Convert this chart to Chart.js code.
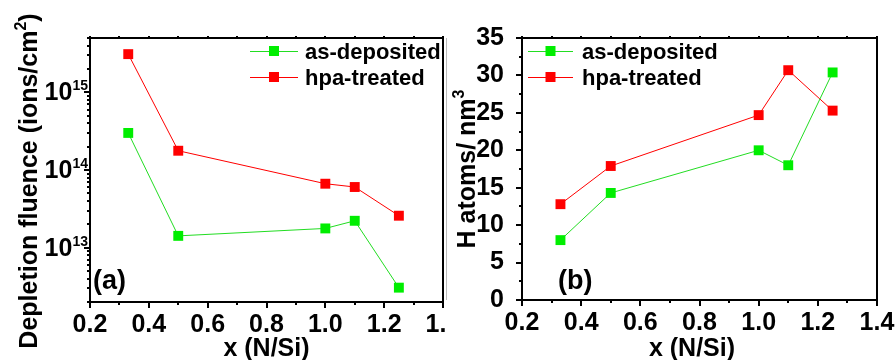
<!DOCTYPE html>
<html>
<head>
<meta charset="utf-8">
<script src="https://cdn.jsdelivr.net/npm/chart.js@4.4.1/dist/chart.umd.min.js"></script>
<style>
    body { margin: 0; background: #fff; }
    #wrap { position: relative; width: 895px; height: 360px; overflow: hidden; }
    canvas { position: absolute; top: 0; }
    #chartA { left: 0; }
    #chartB { left: 445px; }
</style>
</head>
<body>
<div id="wrap">
    <canvas id="chartA" width="460" height="360"></canvas>
    <canvas id="chartB" width="450" height="360"></canvas>
</div>
<script>
// x = N/Si ratio of the films
const xNS = [0.33, 0.5, 1.0, 1.1, 1.25];
const seriesNames = ['as-deposited', 'hpa-treated'];

// (a) depletion fluence, ions/cm2
const fluenceAsDep = [3.0e14, 1.42e13, 1.77e13, 2.22e13, 3.06e12];
const fluenceHpa = [3.1e15, 1.77e14, 6.66e13, 6.04e13, 2.58e13];
const fluenceDecades = [13, 14, 15];

// (b) H atoms / nm3
const hAsDep = [8.0, 14.3, 20.0, 18.0, 30.4];
const hHpa = [12.8, 17.9, 24.7, 30.7, 25.3];

const GREEN = '#00ee00';
const GREEN_LINE = '#22dd22';
const RED = '#ff0000';
const FONT = '"Liberation Sans", Arial, sans-serif';

function pts(ys) {
    return xNS.map((x, i) => ({ x: x, y: ys[i] }));
}

function makeSet(label, ys, fill, line) {
    return {
        label: label,
        data: pts(ys),
        borderColor: line,
        backgroundColor: fill,
        borderWidth: 1,
        pointStyle: 'rect',
        pointRadius: 7,
        pointBorderWidth: 0,
        pointBackgroundColor: fill,
        tension: 0
    };
}

// draws on the rotated baseline, sup = raised smaller part
function vText(ctx, parts, baseX, centerY) {
    ctx.save();
    ctx.translate(baseX, centerY);
    ctx.rotate(-Math.PI / 2);
    ctx.fillStyle = '#000';
    ctx.textBaseline = 'alphabetic';
    ctx.textAlign = 'left';
    let total = 0;
    parts.forEach(p => {
        ctx.font = 'bold ' + p.size + 'px ' + FONT;
        total += ctx.measureText(p.t).width;
    });
    let x = -total / 2;
    parts.forEach(p => {
        ctx.font = 'bold ' + p.size + 'px ' + FONT;
        ctx.fillText(p.t, x, p.sup ? -p.sup : 0);
        x += ctx.measureText(p.t).width;
    });
    ctx.restore();
}

function hText(ctx, txt, x, y, size, align) {
    ctx.save();
    ctx.fillStyle = '#000';
    ctx.font = 'bold ' + size + 'px ' + FONT;
    ctx.textAlign = align || 'left';
    ctx.textBaseline = 'alphabetic';
    ctx.fillText(txt, x, y);
    ctx.restore();
}

function drawLegend(ctx, x0, x1, textX, rows) {
    const cols = [[GREEN, GREEN_LINE], [RED, RED]];
    rows.forEach((y, i) => {
        ctx.save();
        ctx.strokeStyle = cols[i][1];
        ctx.lineWidth = 1;
        ctx.beginPath();
        ctx.moveTo(x0, y + 0.5);
        ctx.lineTo(x1, y + 0.5);
        ctx.stroke();
        ctx.fillStyle = cols[i][0];
        const cx = (x0 + x1) / 2;
        ctx.fillRect(cx - 5, y - 5, 10, 10);
        ctx.restore();
        hText(ctx, seriesNames[i], textX, y + 8, 22);
    });
}

function drawFrame(chart, yTicks) {
    const { ctx, chartArea: a } = chart;
    const xs = chart.scales.x, ys = chart.scales.y;
    ctx.save();
    ctx.strokeStyle = '#000';
    ctx.lineWidth = 2;
    ctx.strokeRect(a.left, a.top, a.right - a.left, a.bottom - a.top);
    ctx.beginPath();
    for (let i = 2; i <= 14; i++) {
        const px = Math.round(xs.getPixelForValue(i / 10));
        const len = i % 2 === 0 ? 6 : 3;
        ctx.moveTo(px, a.bottom);
        ctx.lineTo(px, a.bottom + len);
        ctx.moveTo(px, a.top);
        ctx.lineTo(px, a.top - 2);
    }
    yTicks.forEach(t => {
        const py = Math.round(ys.getPixelForValue(t.v));
        ctx.moveTo(a.left, py);
        ctx.lineTo(a.left - (t.major ? 6 : 3), py);
    });
    ctx.stroke();
    ctx.restore();
}

const whiteBg = {
    id: 'whiteBg',
    beforeDraw(chart) {
        const ctx = chart.ctx;
        ctx.save();
        ctx.fillStyle = '#fff';
        ctx.fillRect(0, 0, chart.width, chart.height);
        ctx.restore();
    }
};

const xAxis = (height) => ({
    type: 'linear',
    min: 0.2,
    max: 1.4,
    grid: { display: false },
    border: { display: false },
    ticks: {
        stepSize: 0.2,
        autoSkip: false,
        maxRotation: 0,
        padding: 0,
        color: '#000',
        font: { family: FONT, size: 25, weight: 'bold' },
        callback: v => Number(v).toFixed(1)
    },
    afterFit(s) {
        s.height = height;
        s.paddingLeft = 0;
        s.paddingRight = 0;
    }
});

// ---- (a) ----
const panelA = {
    id: 'panelA',
    afterDraw(chart) {
        const ctx = chart.ctx;
        const ys = chart.scales.y;
        const ticks = [];
        for (let e = 12; e <= 15; e++) {
            for (let k = 1; k <= 9; k++) {
                const v = k * Math.pow(10, e);
                if (v >= ys.min && v <= ys.max) ticks.push({ v: v, major: k === 1 });
            }
        }
        drawFrame(chart, ticks);
        const a = chart.chartArea;
        // decade labels 10^n
        fluenceDecades.forEach(n => {
            const py = ys.getPixelForValue(Math.pow(10, n));
            ctx.save();
            ctx.fillStyle = '#000';
            ctx.textAlign = 'right';
            ctx.textBaseline = 'alphabetic';
            ctx.font = 'bold 14px ' + FONT;
            const ew = ctx.measureText(String(n)).width;
            ctx.fillText(String(n), a.left - 2, py - 2);
            ctx.font = 'bold 25px ' + FONT;
            ctx.fillText('10', a.left - 2 - ew, py + 8);
            ctx.restore();
        });
        vText(ctx, [
            { t: 'Depletion fluence (ions/cm', size: 25 },
            { t: '2', size: 16, sup: 11 },
            { t: ')', size: 25 }
        ], 37, 181);
        hText(ctx, 'x (N/Si)', (a.left + a.right) / 2, 356, 25, 'center');
        hText(ctx, '(a)', 93, 289, 27);
        drawLegend(ctx, 250, 298, 305, [51, 77]);
    }
};

new Chart(document.getElementById('chartA'), {
    type: 'line',
    data: {
        datasets: [
            makeSet(seriesNames[0], fluenceAsDep, GREEN, GREEN_LINE),
            makeSet(seriesNames[1], fluenceHpa, RED, RED)
        ]
    },
    options: {
        responsive: false,
        animation: false,
        layout: { padding: { top: 38, right: 17, left: 0, bottom: 0 } },
        plugins: { legend: { display: false }, tooltip: { enabled: false } },
        scales: {
            x: xAxis(58),
            y: {
                type: 'logarithmic',
                min: 2e12,
                max: 5e15,
                grid: { display: false },
                border: { display: false },
                ticks: { display: false },
                afterFit(s) {
                    s.width = 90;
                    s.paddingTop = 0;
                    s.paddingBottom = 0;
                }
            }
        }
    },
    plugins: [whiteBg, panelA]
});

// ---- (b) ----
const panelB = {
    id: 'panelB',
    afterDraw(chart) {
        const ctx = chart.ctx;
        const ticks = [];
        for (let i = 0; i <= 14; i++) ticks.push({ v: i * 2.5, major: i % 2 === 0 });
        drawFrame(chart, ticks);
        const a = chart.chartArea;
        ctx.save();
        ctx.strokeStyle = '#bbbbbb';
        ctx.lineWidth = 1;
        ctx.beginPath();
        ctx.moveTo(1.5, a.top);
        ctx.lineTo(1.5, a.bottom);
        ctx.stroke();
        ctx.restore();
        vText(ctx, [
            { t: 'H atoms/ nm', size: 25 },
            { t: '3', size: 16, sup: 11 }
        ], 30, 169);
        hText(ctx, 'x (N/Si)', 247, 356, 25, 'center');
        hText(ctx, '(b)', 113, 289, 27);
        drawLegend(ctx, 83, 128, 137, [51, 77]);
    }
};

new Chart(document.getElementById('chartB'), {
    type: 'line',
    data: {
        datasets: [
            makeSet(seriesNames[0], hAsDep, GREEN, GREEN_LINE),
            makeSet(seriesNames[1], hHpa, RED, RED)
        ]
    },
    options: {
        responsive: false,
        animation: false,
        layout: { padding: { top: 38, right: 18, left: 0, bottom: 0 } },
        plugins: { legend: { display: false }, tooltip: { enabled: false } },
        scales: {
            x: xAxis(60),
            y: {
                type: 'linear',
                min: 0,
                max: 35,
                grid: { display: false },
                border: { display: false },
                ticks: {
                    stepSize: 5,
                    padding: 10,
                    color: '#000',
                    font: { family: FONT, size: 25, weight: 'bold' }
                },
                afterFit(s) {
                    s.width = 77;
                    s.paddingTop = 0;
                    s.paddingBottom = 0;
                }
            }
        }
    },
    plugins: [whiteBg, panelB]
});
</script>
</body>
</html>
